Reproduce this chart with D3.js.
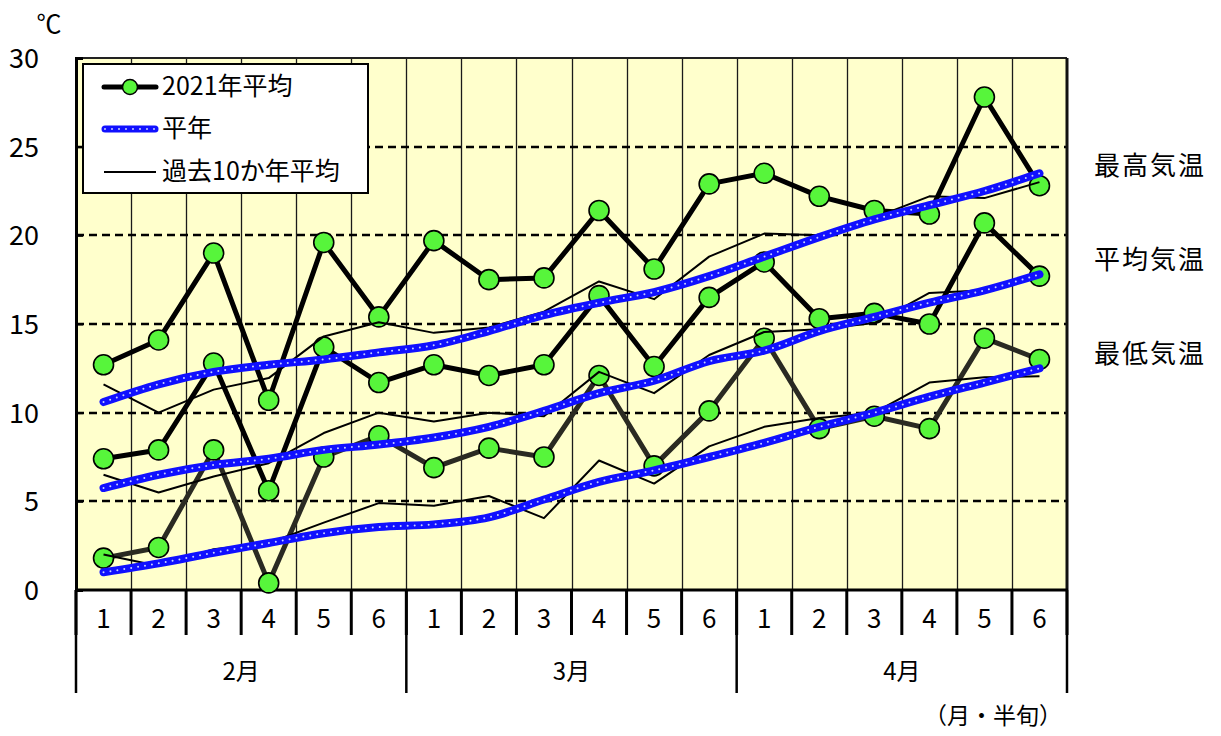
<!DOCTYPE html>
<html><head><meta charset="utf-8">
<script src="https://cdn.jsdelivr.net/npm/d3@7"></script>
<style>
html,body{margin:0;padding:0;background:#fff;}
svg{display:block;font-family:"Noto Sans CJK JP","Noto Sans",sans-serif;}
</style></head>
<body>
<svg id="chart" width="1221" height="736"></svg>
<script>
// ---- data ----
const months = ["2月","3月","4月"];
const halfLabels = ["1","2","3","4","5","6"];
const categories = [];
months.forEach(m => halfLabels.forEach(h => categories.push(m + h)));
const yTicks = [0,5,10,15,20,25,30];

const max2021  = [12.7,14.1,19.0,10.7,19.6,15.4,19.7,17.5,17.6,21.4,18.1,22.9,23.5,22.2,21.4,21.2,27.8,22.8];
const mean2021 = [7.4,7.9,12.8,5.6,13.7,11.7,12.7,12.1,12.7,16.6,12.6,16.5,18.5,15.3,15.6,15.0,20.7,17.7];
const min2021  = [1.8,2.4,7.9,0.4,7.5,8.7,6.9,8.0,7.5,12.1,7.0,10.1,14.2,9.1,9.8,9.1,14.2,13.0];

const maxNormal  = [10.6,11.6,12.3,12.7,13.0,13.4,13.8,14.6,15.5,16.2,16.8,17.7,18.8,19.9,20.9,21.7,22.5,23.5];
const meanNormal = [5.75,6.5,7.05,7.4,7.9,8.2,8.6,9.2,10.1,11.1,11.8,12.9,13.5,14.6,15.4,16.2,16.9,17.8];
const minNormal  = [1.0,1.5,2.1,2.65,3.2,3.55,3.7,4.1,5.1,6.1,6.75,7.5,8.3,9.2,10.0,10.9,11.7,12.5];

const max10  = [11.6,10.0,11.3,11.95,14.3,15.1,14.5,14.8,15.7,17.4,16.4,18.8,20.1,20.0,21.0,22.2,22.1,23.0];
const mean10 = [6.5,5.5,6.4,7.15,8.85,10.0,9.5,10.0,9.8,12.3,11.1,13.25,14.55,14.7,15.05,16.75,16.9,17.8];
const min10  = [2.0,1.35,2.3,2.65,3.8,4.9,4.75,5.3,4.05,7.3,6.0,8.1,9.2,9.7,10.0,11.7,12.0,12.05];

const legendLabels = ["2021年平均","平年","過去10か年平均"];
const sideLabels = [{t:"最高気温", v:23.9},{t:"平均気温", v:18.6},{t:"最低気温", v:13.3}];

// ---- layout ----
const svg = d3.select("#chart");
const L = 76, R = 1067, T = 58, B = 590;
const x = d3.scaleBand().domain(categories).range([L, R]).paddingInner(0).paddingOuter(0);
const y = d3.scaleLinear().domain([0, 30]).range([B, T]);
const cx = c => x(c) + x.bandwidth() / 2;
const bw = x.bandwidth();

// plot background
svg.append("rect").attr("x", L).attr("y", T).attr("width", R - L).attr("height", B - T).attr("fill", "#ffffcc");

// vertical gridlines
categories.slice(1).forEach(c => {
  const xx = Math.round(x(c)) + 0.5;
  svg.append("line").attr("x1", xx).attr("x2", xx).attr("y1", T).attr("y2", B)
    .attr("stroke", "#1a1a1a").attr("stroke-width", 1.3);
});
// horizontal dashed gridlines
yTicks.filter(v => v > 0 && v < 30).forEach(v => {
  const yy = Math.round(y(v));
  svg.append("line").attr("x1", L).attr("x2", R).attr("y1", yy).attr("y2", yy)
    .attr("stroke", "#000").attr("stroke-width", 2.4).attr("stroke-dasharray", "8,5");
});
// top border
svg.append("line").attr("x1", L).attr("x2", R).attr("y1", T).attr("y2", T).attr("stroke", "#222").attr("stroke-width", 2);
// right border
svg.append("line").attr("x1", R).attr("x2", R).attr("y1", T).attr("y2", B).attr("stroke", "#111").attr("stroke-width", 3);

// y axis
const yAxis = d3.axisLeft(y).tickValues(yTicks).tickSize(-7).tickPadding(37).tickFormat(d3.format("d"));
const ya = svg.append("g").attr("transform", `translate(${L},0)`).call(yAxis);
ya.select(".domain").attr("stroke", "#000").attr("stroke-width", 3);
ya.selectAll(".tick line").attr("stroke", "#000").attr("stroke-width", 2);
ya.selectAll(".tick text").attr("font-size", 27).attr("fill", "#000")
  .attr("font-family", "'Noto Sans CJK JP',sans-serif").attr("dy", "0.35em");

// x axis line
svg.append("line").attr("x1", L).attr("x2", R + 1).attr("y1", B).attr("y2", B).attr("stroke", "#000").attr("stroke-width", 3);
// half ticks
categories.forEach((c, i) => {
  svg.append("line").attr("x1", x(c)).attr("x2", x(c)).attr("y1", B).attr("y2", 635).attr("stroke", "#000").attr("stroke-width", 3);
  svg.append("text").attr("x", cx(c)).attr("y", 621).attr("text-anchor", "middle").attr("dominant-baseline", "middle")
    .attr("font-size", 26).attr("fill", "#000").text(halfLabels[i % 6]);
});
svg.append("line").attr("x1", R).attr("x2", R).attr("y1", B).attr("y2", 635).attr("stroke", "#000").attr("stroke-width", 3);
// month dividers
months.forEach((m, i) => {
  const x0 = x(categories[i * 6]);
  svg.append("line").attr("x1", x0).attr("x2", x0).attr("y1", B).attr("y2", 693).attr("stroke", "#000").attr("stroke-width", 2.5);
  svg.append("text").attr("x", x0 + bw * 3).attr("y", 673).attr("text-anchor", "middle").attr("dominant-baseline", "middle")
    .attr("font-size", 24).attr("fill", "#000").text(m);
});
svg.append("line").attr("x1", R).attr("x2", R).attr("y1", B).attr("y2", 693).attr("stroke", "#000").attr("stroke-width", 2.5);

// unit labels
svg.append("text").attr("x", 49).attr("y", 33).attr("text-anchor", "middle")
  .attr("font-size", 25).attr("fill", "#000").text("℃");
svg.append("text").attr("x", 993).attr("y", 718).attr("text-anchor", "middle").attr("dominant-baseline", "middle")
  .attr("font-size", 23).attr("fill", "#000").text("（月・半旬）");

// side labels
sideLabels.forEach(s => {
  svg.append("text").attr("x", 1150).attr("y", y(s.v) + 2).attr("text-anchor", "middle").attr("dominant-baseline", "middle")
    .attr("font-size", 26).attr("letter-spacing", 2).attr("fill", "#000").text(s.t);
});

// ---- series ----
const lineLin = d3.line().x((d, i) => cx(categories[i])).y(d => y(d));
const lineSmooth = d3.line().x((d, i) => cx(categories[i])).y(d => y(d)).curve(d3.curveMonotoneX);
const green = "#57f53b";

function draw2021(data, color) {
  svg.append("path").datum(data).attr("d", lineLin).attr("fill", "none")
    .attr("stroke", color).attr("stroke-width", 5).attr("stroke-linejoin", "round");
  svg.append("g").selectAll("circle").data(data).join("circle")
    .attr("cx", (d, i) => cx(categories[i])).attr("cy", d => y(d)).attr("r", 10)
    .attr("fill", green).attr("stroke", "#000").attr("stroke-width", 1.6);
}
draw2021(min2021, "#2a2a22");
draw2021(mean2021, "#000");
draw2021(max2021, "#000");

function draw10(data) {
  svg.append("path").datum(data).attr("d", lineLin).attr("fill", "none")
    .attr("stroke", "#000").attr("stroke-width", 2).attr("stroke-linejoin", "round");
}
[min10, mean10, max10].forEach(draw10);

function drawNormal(data) {
  svg.append("path").datum(data).attr("d", lineSmooth).attr("fill", "none")
    .attr("stroke", "#1010ff").attr("stroke-width", 8).attr("stroke-linecap", "round");
  svg.append("path").datum(data).attr("d", lineSmooth).attr("fill", "none")
    .attr("stroke", "#c8d0ff").attr("stroke-width", 2).attr("stroke-linecap", "round").attr("stroke-dasharray", "0,7");
}
[minNormal, meanNormal, maxNormal].forEach(drawNormal);

// ---- legend ----
const lg = svg.append("g");
lg.append("rect").attr("x", 83).attr("y", 64).attr("width", 285).attr("height", 129)
  .attr("fill", "#fff").attr("stroke", "#000").attr("stroke-width", 2);
const rows = [87, 129, 172];
// 2021
lg.append("line").attr("x1", 104).attr("x2", 156).attr("y1", rows[0]).attr("y2", rows[0]).attr("stroke", "#000").attr("stroke-width", 5).attr("stroke-linecap", "round");
lg.append("circle").attr("cx", 130).attr("cy", rows[0]).attr("r", 7.5).attr("fill", green).attr("stroke", "#000").attr("stroke-width", 1.5);
// normal
lg.append("line").attr("x1", 105).attr("x2", 155).attr("y1", rows[1]).attr("y2", rows[1]).attr("stroke", "#1010ff").attr("stroke-width", 7).attr("stroke-linecap", "round");
lg.append("line").attr("x1", 105).attr("x2", 155).attr("y1", rows[1]).attr("y2", rows[1]).attr("stroke", "#c8d0ff").attr("stroke-width", 2).attr("stroke-linecap", "round").attr("stroke-dasharray", "0,7");
// past 10
lg.append("line").attr("x1", 104).attr("x2", 156).attr("y1", rows[2]).attr("y2", rows[2]).attr("stroke", "#000").attr("stroke-width", 2);
legendLabels.forEach((t, i) => {
  lg.append("text").attr("x", 162).attr("y", rows[i] + 1).attr("dominant-baseline", "middle")
    .attr("font-size", 25).attr("fill", "#000").text(t);
});
</script>
</body></html>
